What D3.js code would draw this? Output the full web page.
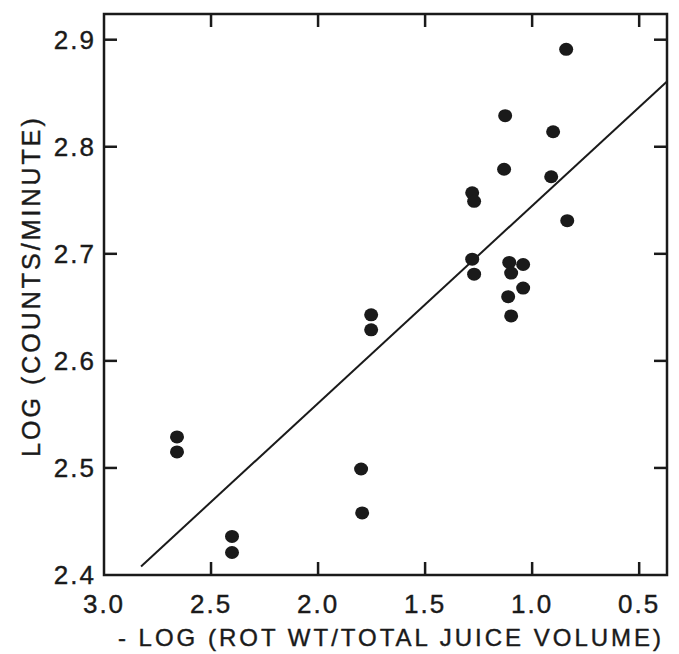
<!DOCTYPE html>
<html>
<head>
<meta charset="utf-8">
<script src="https://cdn.jsdelivr.net/npm/d3@7"></script>
<style>
  body { margin: 0; background: #fff; }
  text { font-family: "Liberation Sans", "DejaVu Sans", sans-serif; fill: #1a1a1a; stroke: #1a1a1a; stroke-width: 0.4; }
</style>
</head>
<body>
<div id="chart"></div>
<script>
const width = 679;
const height = 654;
const margin = { top: 14, right: 12, bottom: 79, left: 104 };

// data
const xValues = [0.841, 1.126, 0.902, 1.131, 0.911, 1.280, 1.271, 0.836, 1.280, 1.271, 1.107, 1.042,
  1.098, 1.042, 1.112, 1.098, 1.752, 1.752, 2.659, 2.659, 1.799, 1.794, 2.402, 2.402];
const yValues = [2.891, 2.829, 2.814, 2.779, 2.772, 2.757, 2.749, 2.731, 2.695, 2.681, 2.692, 2.690,
  2.682, 2.668, 2.660, 2.642, 2.643, 2.629, 2.529, 2.515, 2.499, 2.458, 2.436, 2.421];

// fitted line endpoints
const fitX = [2.827, 0.37];
const fitY = [2.408, 2.861];

const xTicks = [3.0, 2.5, 2.0, 1.5, 1.0, 0.5];
const yTicks = [2.4, 2.5, 2.6, 2.7, 2.8, 2.9];

const points = xValues.map((x, i) => ({ x: x, y: yValues[i] }));

const svg = d3.select("#chart").append("svg")
  .attr("width", width)
  .attr("height", height);

const x = d3.scaleLinear().domain([3.0, 0.37]).range([margin.left, width - margin.right]);
const y = d3.scaleLinear().domain([2.4, 2.924]).range([height - margin.bottom, margin.top]);

const tickLen = 13;
const ink = "#1a1a1a";

// frame ticks (all pointing inward)
const ticks = svg.append("g").attr("stroke", ink).attr("stroke-width", 2.5);
xTicks.filter(d => d < 3.0).forEach(d => {
  ticks.append("line").attr("x1", x(d)).attr("x2", x(d))
    .attr("y1", y.range()[0]).attr("y2", y.range()[0] - tickLen);
  ticks.append("line").attr("x1", x(d)).attr("x2", x(d))
    .attr("y1", y.range()[1]).attr("y2", y.range()[1] + tickLen);
});
yTicks.filter(d => d > 2.4).forEach(d => {
  ticks.append("line").attr("y1", y(d)).attr("y2", y(d))
    .attr("x1", x.range()[0]).attr("x2", x.range()[0] + tickLen);
  ticks.append("line").attr("y1", y(d)).attr("y2", y(d))
    .attr("x1", x.range()[1]).attr("x2", x.range()[1] - tickLen);
});

// frame
svg.append("rect")
  .attr("x", x.range()[0])
  .attr("y", y.range()[1])
  .attr("width", x.range()[1] - x.range()[0])
  .attr("height", y.range()[0] - y.range()[1])
  .attr("fill", "none")
  .attr("stroke", ink)
  .attr("stroke-width", 2.5);

// tick labels
svg.append("g").selectAll("text")
  .data(xTicks)
  .enter().append("text")
  .attr("x", d => x(d))
  .attr("y", height - margin.bottom + 38)
  .attr("text-anchor", "middle")
  .attr("font-size", 26)
  .attr("letter-spacing", 2)
  .text(d => d.toFixed(1));

svg.append("g").selectAll("text")
  .data(yTicks)
  .enter().append("text")
  .attr("x", margin.left - 8)
  .attr("y", d => y(d) + 9)
  .attr("text-anchor", "end")
  .attr("font-size", 26)
  .attr("letter-spacing", 2)
  .text(d => d.toFixed(1));

// axis titles
svg.append("text")
  .attr("x", 391)
  .attr("y", height - 8)
  .attr("text-anchor", "middle")
  .attr("font-size", 24)
  .attr("letter-spacing", 3)
  .text("- LOG (ROT WT/TOTAL JUICE VOLUME)");

svg.append("text")
  .attr("transform", "translate(40," + 286 + ") rotate(-90)")
  .attr("text-anchor", "middle")
  .attr("font-size", 25)
  .attr("letter-spacing", 3)
  .text("LOG (COUNTS/MINUTE)");

// regression line
svg.append("line")
  .attr("x1", x(fitX[0])).attr("y1", y(fitY[0]))
  .attr("x2", x(fitX[1])).attr("y2", y(fitY[1]))
  .attr("stroke", ink)
  .attr("stroke-width", 2);

// points
svg.append("g").selectAll("ellipse")
  .data(points)
  .enter().append("ellipse")
  .attr("cx", d => x(d.x))
  .attr("cy", d => y(d.y))
  .attr("rx", 7)
  .attr("ry", 6.5)
  .attr("fill", ink);
</script>
</body>
</html>
